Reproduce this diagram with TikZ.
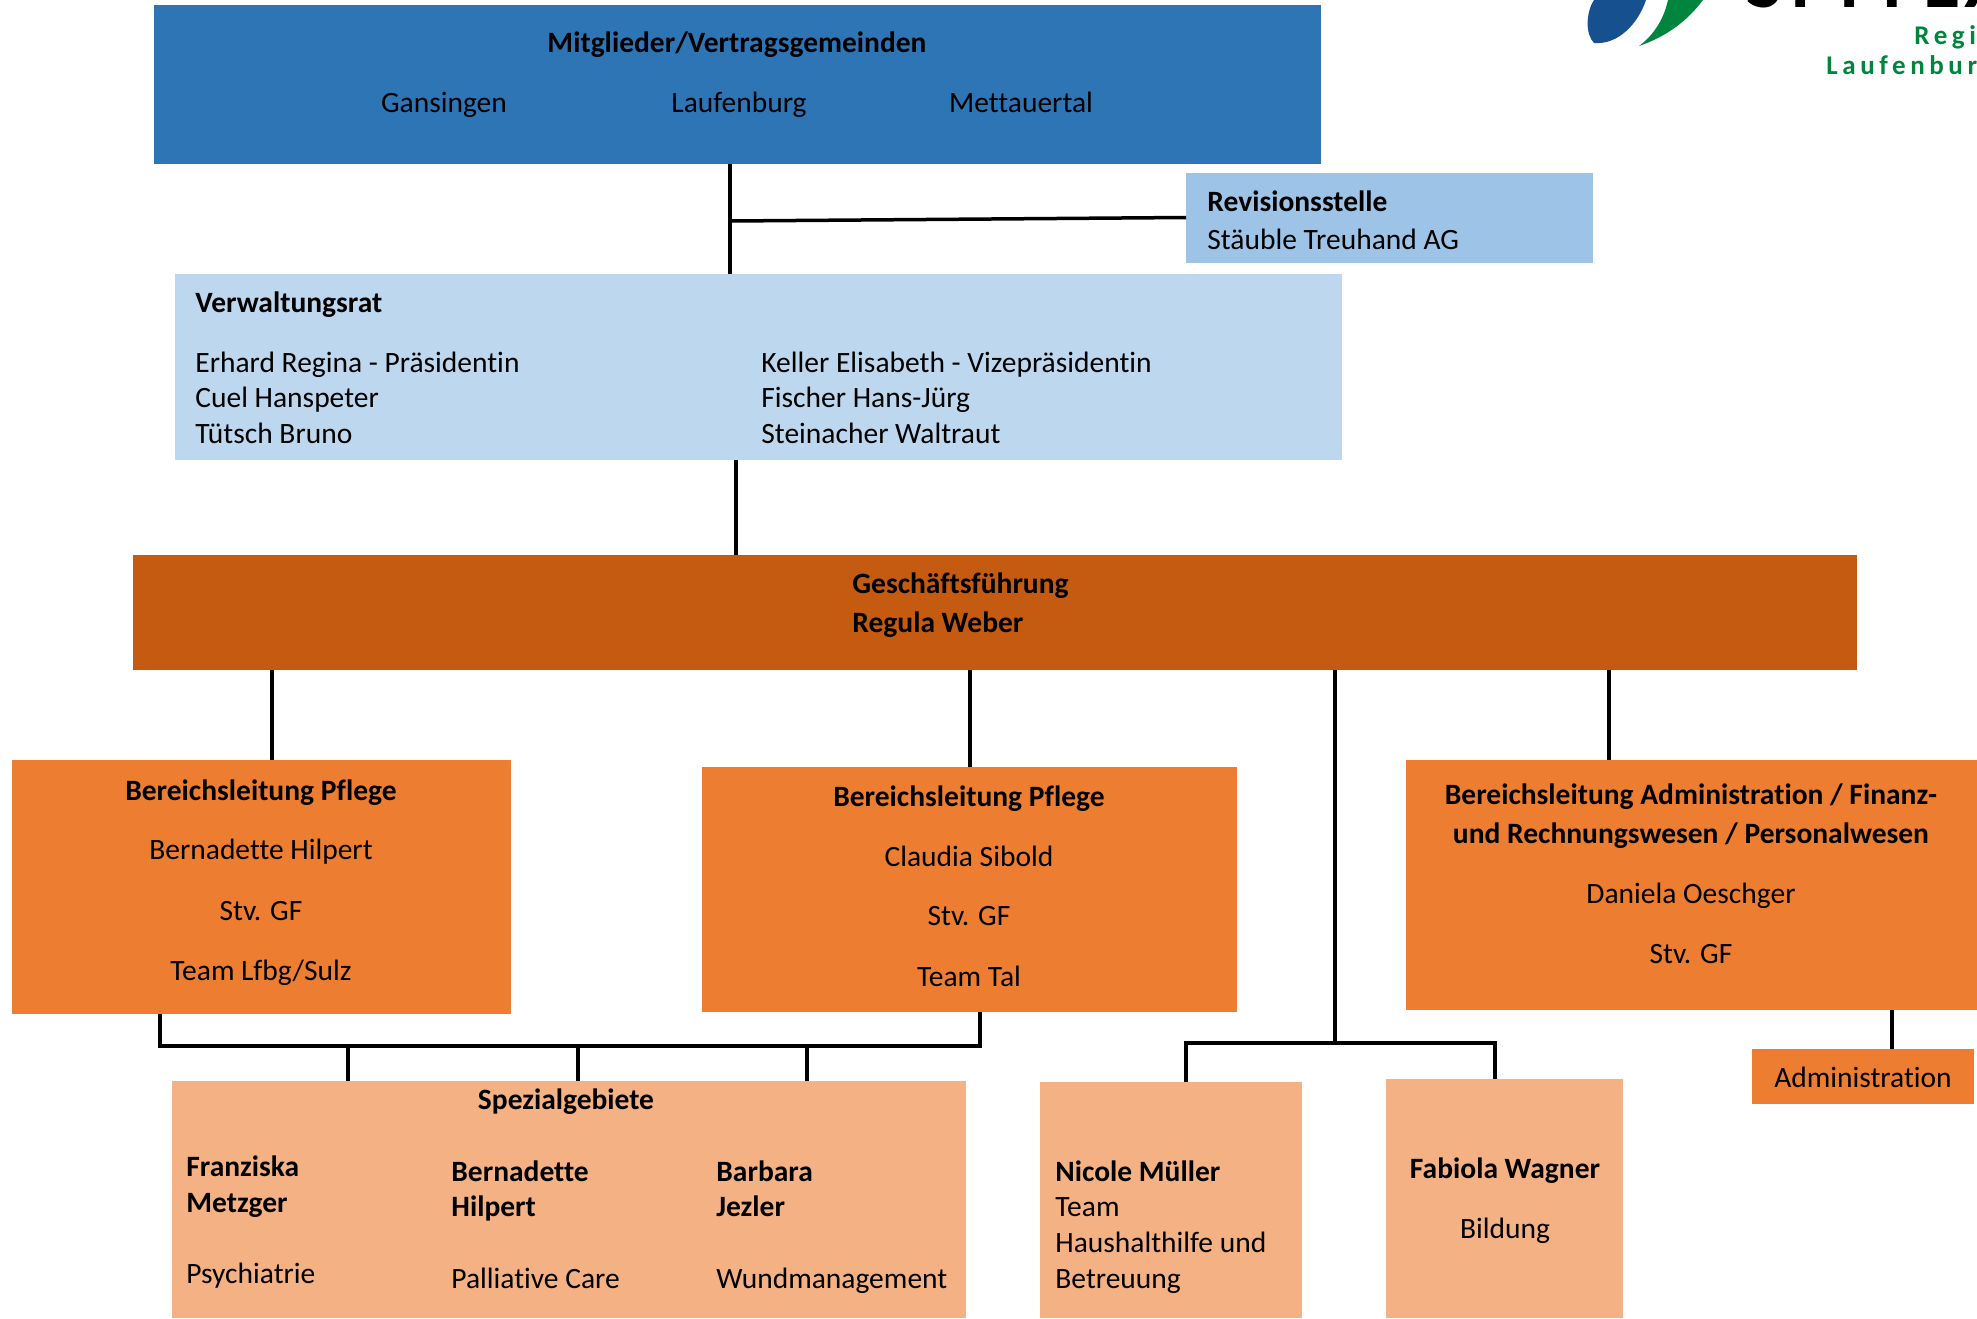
\documentclass[tikz,border=0pt]{standalone}
\usepackage{fontspec}
\setmainfont[Ligatures=NoCommon]{Carlito}
\newfontfamily\logofont[LetterSpace=17]{Carlito}
\usetikzlibrary{fit}
\tikzset{
  box/.style={inner sep=0pt,outer sep=0pt,draw=none},
  txt/.style={inner sep=0pt,font=\fontsize{14.75}{17.5}\selectfont,anchor=base west},
  mid/.style={inner sep=0pt,font=\fontsize{14.75}{17.5}\selectfont,anchor=base},
  bold/.style={font=\fontsize{14.75}{17.5}\selectfont\bfseries},
  logotxt/.style={inner sep=0pt,anchor=base west,text=logogruen,font=\fontsize{13.5}{16}\logofont\bfseries},
  line/.style={draw=black,line width=1.75pt},
}
\definecolor{blau}{HTML}{2E75B6}
\definecolor{hellblau}{HTML}{9DC3E6}
\definecolor{blass}{HTML}{BDD7EE}
\definecolor{braun}{HTML}{C55A11}
\definecolor{orange1}{HTML}{ED7D31}
\definecolor{peach}{HTML}{F4B183}
\definecolor{logoblau}{HTML}{17508F}
\definecolor{logogruen}{HTML}{00853F}
\begin{document}
\begin{tikzpicture}[x=0.5pt,y=-0.5pt]
  \useasboundingbox (0,0) rectangle (1977,1318);
  \clip (0,0) rectangle (1977,1318);
  % boxes
  \node[box,fill=blau,fit={(154,5) (1321,164)}] (mitglieder) {};
  \node[box,fill=hellblau,fit={(1186,172.5) (1593,262.5)}] (revision) {};
  \node[box,fill=blass,fit={(175,273.5) (1342,460)}] (vrat) {};
  \node[box,fill=braun,fit={(133,555) (1857,670)}] (gf) {};
  \node[box,fill=orange1,fit={(12,760) (511,1014)}] (bl1) {};
  \node[box,fill=orange1,fit={(702,767) (1237,1012)}] (bl2) {};
  \node[box,fill=orange1,fit={(1406,760) (1977,1010)}] (bl3) {};
  \node[box,fill=orange1,fit={(1752,1049) (1974,1104)}] (admin) {};
  \node[box,fill=peach,fit={(172,1081) (966,1318)}] (spez) {};
  \node[box,fill=peach,fit={(1040,1082) (1302,1318)}] (nicole) {};
  \node[box,fill=peach,fit={(1386,1079) (1623,1318)}] (fabiola) {};
  % connectors
  \coordinate (rj) at (730,221);
  \coordinate (sj) at (160,1046);
  \coordinate (nj) at (1186,1043);
  \draw[line] (730,0 |- mitglieder.south) -- (730,0 |- vrat.north);
  \draw[line] (rj) -- (revision.west);
  \draw[line] (736,0 |- vrat.south) -- (736,0 |- gf.north);
  \draw[line] (272,0 |- gf.south) -- (272,0 |- bl1.north);
  \draw[line] (970,0 |- gf.south) -- (970,0 |- bl2.north);
  \draw[line] (1335,0 |- gf.south) -- (1335,0 |- nj);
  \draw[line] (1609,0 |- gf.south) -- (1609,0 |- bl3.north);
  \draw[line] (1892,0 |- bl3.south) -- (1892,0 |- admin.north);
  \draw[line] (160,0 |- bl1.south) -- (sj) -- (980,0 |- sj) -- (980,0 |- bl2.south);
  \draw[line] (348,0 |- sj) -- (348,0 |- spez.north);
  \draw[line] (578,0 |- sj) -- (578,0 |- spez.north);
  \draw[line] (807,0 |- sj) -- (807,0 |- spez.north);
  \draw[line] (1186,0 |- nicole.north) -- (nj) -- (1495,0 |- nj) -- (1495,0 |- fabiola.north);
  % text
  \node[mid,bold] (t1) at (737,52) {Mitglieder/Vertragsgemeinden};
  \node[mid] (t2) at (444,112) {Gansingen};
  \node[mid] (t3) at (739,112) {Laufenburg};
  \node[mid] (t4) at (1021,112) {Mettauertal};
  \node[txt,bold] (t5) at (1207,211) {Revisionsstelle};
  \node[txt] (t6) at (1207,249) {Stäuble Treuhand AG};
  \node[txt,bold] (t7) at (195,312) {Verwaltungsrat};
  \node[txt] (t8) at (195,372) {Erhard Regina - Präsidentin};
  \node[txt] (t9) at (195,407) {Cuel Hanspeter};
  \node[txt] (t10) at (195,443) {Tütsch Bruno};
  \node[txt] (t11) at (761,372) {Keller Elisabeth - Vizepräsidentin};
  \node[txt] (t12) at (761,407) {Fischer Hans-Jürg};
  \node[txt] (t13) at (761,443) {Steinacher Waltraut};
  \node[txt,bold] (t14) at (852,593) {Geschäftsführung};
  \node[txt,bold] (t15) at (852,632) {Regula Weber};
  \node[mid,bold] (t16) at (261,800) {Bereichsleitung Pflege};
  \node[mid] (t17) at (261,859) {Bernadette Hilpert};
  \node[mid] (t18) at (261,920) {Stv. GF};
  \node[mid] (t19) at (261,980) {Team Lfbg/Sulz};
  \node[mid,bold] (t20) at (969,806) {Bereichsleitung Pflege};
  \node[mid] (t21) at (969,866) {Claudia Sibold};
  \node[mid] (t22) at (969,925) {Stv. GF};
  \node[mid] (t23) at (969,986) {Team Tal};
  \node[mid,bold] (t24) at (1691,804) {Bereichsleitung Administration / Finanz-};
  \node[mid,bold] (t25) at (1691,843) {und Rechnungswesen / Personalwesen};
  \node[mid] (t26) at (1691,903) {Daniela Oeschger};
  \node[mid] (t27) at (1691,963) {Stv. GF};
  \node[mid] (t28) at (1863,1087) {Administration};
  \node[mid,bold] (t29) at (566,1109) {Spezialgebiete};
  \node[txt,bold] (t30) at (186,1176) {Franziska};
  \node[txt,bold] (t31) at (186,1212) {Metzger};
  \node[txt] (t32) at (186,1283) {Psychiatrie};
  \node[txt,bold] (t33) at (451,1181) {Bernadette};
  \node[txt,bold] (t34) at (451,1216) {Hilpert};
  \node[txt] (t35) at (451,1288) {Palliative Care};
  \node[txt,bold] (t36) at (716,1181) {Barbara};
  \node[txt,bold] (t37) at (716,1216) {Jezler};
  \node[txt] (t38) at (716,1288) {Wundmanagement};
  \node[txt,bold] (t39) at (1055,1181) {Nicole Müller};
  \node[txt] (t40) at (1055,1216) {Team};
  \node[txt] (t41) at (1055,1252) {Haushalthilfe und};
  \node[txt] (t42) at (1055,1288) {Betreuung};
  \node[mid,bold] (t43) at (1505,1178) {Fabiola Wagner};
  \node[mid] (t44) at (1505,1238) {Bildung};
  % logo
  \fill[logoblau] (1594,0) .. controls (1586,12) and (1585,34) .. (1594,43) .. controls (1618,45) and (1638,24) .. (1646,0) -- cycle;
  \fill[logogruen] (1639,46) .. controls (1655,34) and (1664,18) .. (1668,0) -- (1703,0) .. controls (1688,20) and (1668,36) .. (1639,46) -- cycle;
  \node[logotxt] (t45) at (1914,44) {Regi};
  \node[logotxt] (t46) at (1826,74) {Laufenbur};
  \node[inner sep=0pt,anchor=base west,font=\fontsize{38}{40}\selectfont\bfseries] (t47) at (1746,7) {S\kern4.5pt P\kern4pt I\kern6.5pt T\kern6.5pt E\kern2pt X};
\end{tikzpicture}
\end{document}
